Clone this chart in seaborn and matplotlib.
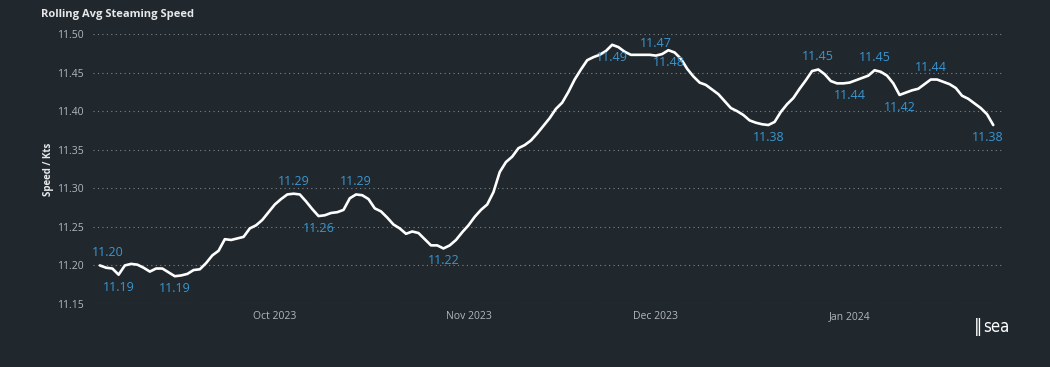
import numpy as np
import pandas as pd
import matplotlib
matplotlib.use("Agg")
import matplotlib.pyplot as plt
import matplotlib.dates as mdates
import seaborn as sns

# ---- data ----
start_date = "2023-09-03"
speed = [
    11.200, 11.197, 11.196, 11.188, 11.200, 11.202, 11.201, 11.197, 11.192, 11.196,
    11.196, 11.191, 11.186, 11.187, 11.189, 11.194, 11.195, 11.203, 11.213, 11.219,
    11.234, 11.233, 11.235, 11.237, 11.248, 11.252, 11.259, 11.269, 11.279, 11.286,
    11.292, 11.293, 11.292, 11.283, 11.273, 11.264, 11.265, 11.268, 11.269, 11.272,
    11.287, 11.292, 11.291, 11.286, 11.274, 11.270, 11.262, 11.253, 11.248, 11.241,
    11.244, 11.242, 11.234, 11.226, 11.226, 11.222, 11.226, 11.233, 11.243, 11.252,
    11.263, 11.272, 11.279, 11.295, 11.321, 11.334, 11.341, 11.352, 11.356, 11.362,
    11.371, 11.381, 11.391, 11.403, 11.411, 11.425, 11.441, 11.454, 11.466, 11.470,
    11.473, 11.478, 11.486, 11.483, 11.477, 11.473, 11.473, 11.473, 11.473, 11.472,
    11.474, 11.479, 11.476, 11.468, 11.455, 11.445, 11.437, 11.434, 11.428, 11.422,
    11.413, 11.404, 11.400, 11.395, 11.388, 11.385, 11.383, 11.382, 11.386, 11.399,
    11.409, 11.417, 11.429, 11.440, 11.452, 11.454, 11.448, 11.439, 11.436, 11.436,
    11.437, 11.440, 11.443, 11.446, 11.453, 11.451, 11.446, 11.436, 11.421, 11.424,
    11.427, 11.429, 11.435, 11.441, 11.441, 11.438, 11.435, 11.430, 11.420, 11.416,
    11.410, 11.404, 11.396, 11.382,
]
# indices of labelled points and whether the label is above (1) or below (-1)
label_idx = [0, 3, 12, 31, 35, 41, 55, 82, 89, 91, 107, 115, 120, 124, 128, 133, 143]
label_side = [1, -1, -1, 1, -1, 1, -1, -1, 1, -1, -1, 1, -1, 1, -1, 1, -1]
y_ticks = [11.15, 11.20, 11.25, 11.30, 11.35, 11.40, 11.45, 11.50]
x_tick_dates = ["2023-10-01", "2023-11-01", "2023-12-01", "2024-01-01"]
x_tick_labels = ["Oct 2023", "Nov 2023", "Dec 2023", "Jan 2024"]

dates = pd.date_range(start_date, periods=len(speed), freq="D")
df = pd.DataFrame({"date": dates, "speed": speed})

BG = "#20282e"
TICK = "#b3b7ba"
GRID = "#7d858a"
LABEL = "#3b95cf"

sns.set_style("dark")
plt.rcParams["font.family"] = ["Open Sans", "DejaVu Sans"]

fig = plt.figure(figsize=(10.5, 3.67), dpi=100, facecolor=BG)
ax = fig.add_axes([93 / 1050, 1 - 304 / 367, (1002 - 93) / 1050, (304 - 34) / 367])
ax.set_facecolor(BG)

sns.lineplot(data=df, x="date", y="speed", ax=ax, color="white", linewidth=1.9,
             solid_joinstyle="round", solid_capstyle="round")

ax.set_ylim(11.15, 11.50)
ax.set_xlim(pd.Timestamp(start_date) - pd.Timedelta(days=1.1),
             dates[-1] + pd.Timedelta(days=1.4))
ax.set_yticks(y_ticks)
ax.set_yticklabels([f"{v:.2f}" for v in y_ticks])
ax.set_xticks(pd.to_datetime(x_tick_dates))
ax.set_xticklabels(x_tick_labels)
ax.tick_params(axis="both", length=0, colors=TICK, labelsize=7.5)
ax.tick_params(axis="y", pad=7)
ax.tick_params(axis="x", pad=5)
ax.grid(axis="y", color=GRID, linestyle=(0, (1, 3)), linewidth=0.8)
ax.grid(axis="x", visible=False)
for s in ax.spines.values():
    s.set_visible(False)

ax.set_xlabel("")
ax.set_ylabel("Speed / Kts", color="#e6e8ea", fontsize=7, fontweight="bold")
ax.yaxis.set_label_coords(-0.043, 0.5)

n = len(speed)
for i, side in zip(label_idx, label_side):
    dx = 6 if i == 0 else (-4 if i == n - 1 else 0)
    ax.annotate(f"{speed[i]:.2f}", (dates[i], speed[i]), xytext=(dx, 9 * side),
                textcoords="offset points", ha="center", va="center",
                color=LABEL, fontsize=9)

fig.text(41 / 1050, 1 - 15 / 367, "Rolling Avg Steaming Speed", color="#e6e8ea",
         fontsize=8, fontweight="bold", ha="left", va="center")
fig.text(983 / 1050, 1 - 327 / 367, "sea", color="white", fontsize=12,
         family="DejaVu Sans", fontstretch="condensed",
         ha="left", va="center")
fig.text(978 / 1050, 1 - 327 / 367, "\u2016", color="white", fontsize=12,
         ha="center", va="center")

fig.savefig("out.png", dpi=100, facecolor=BG)
